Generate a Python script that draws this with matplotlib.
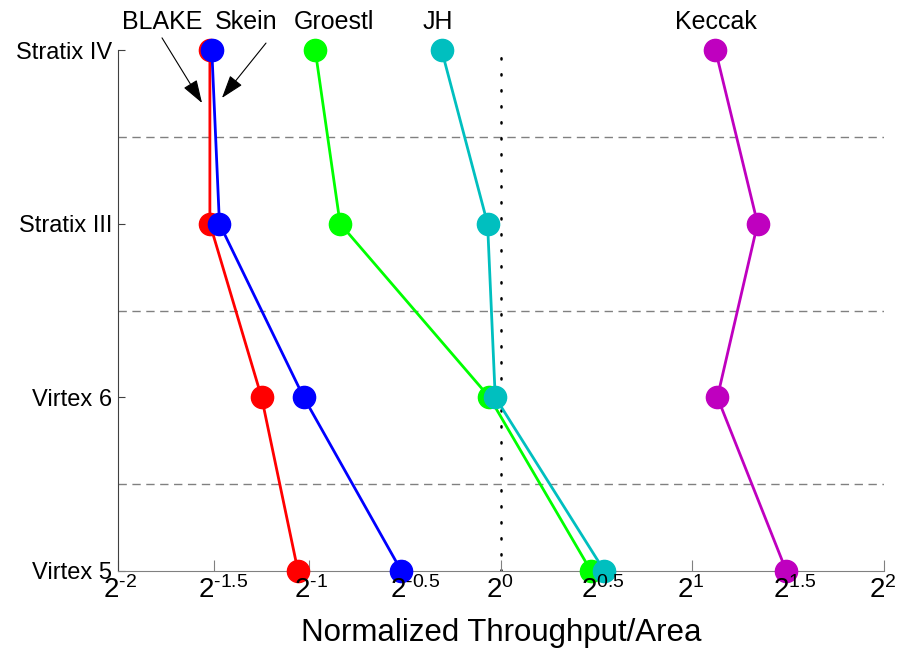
import numpy as np
import matplotlib
matplotlib.use("Agg")
import matplotlib.pyplot as plt

plt.rcParams['font.family'] = ['Liberation Sans', 'DejaVu Sans']
plt.rcParams['mathtext.fontset'] = 'custom'
plt.rcParams['mathtext.rm'] = 'Liberation Sans'
plt.rcParams['mathtext.it'] = 'Liberation Sans'
plt.rcParams['mathtext.default'] = 'regular'

# --- Data (log2 of normalized throughput/area) ---
devices = ["Virtex 5", "Virtex 6", "Stratix III", "Stratix IV"]
blake = [-1.06, -1.25, -1.52, -1.52]
skein = [-0.52, -1.03, -1.47, -1.51]
groestl = [0.47, -0.06, -0.84, -0.97]
jh = [0.54, -0.03, -0.07, -0.31]
keccak = [1.49, 1.13, 1.34, 1.12]

series = [("BLAKE", blake, "#ff0000"),
          ("Skein", skein, "#0000ff"),
          ("Groestl", groestl, "#00ff00"),
          ("JH", jh, "#00bfbf"),
          ("Keccak", keccak, "#bf00bf")]

xtick_exp = [-2, -1.5, -1, -0.5, 0, 0.5, 1, 1.5, 2]

fig = plt.figure(figsize=(8.97, 6.53), dpi=100)
ax = fig.add_axes([0.1315, 0.1256, 0.8540, 0.7978])

y = np.arange(len(devices))

# separators between devices
for yy in y[:-1] + 0.5:
    ax.axhline(yy, color="#808080", lw=1, ls=(0, (6, 4)), zorder=1)
# reference at 2^0
ax.axvline(1.0, color="black", lw=1.8, ls=(0, (0.5, 5.9)), dash_capstyle="round", zorder=1)

for name, vals, col in series:
    ax.plot(2.0 ** np.array(vals), y, "-o", color=col, lw=2, ms=16,
            clip_on=False, zorder=3)

ax.set_xscale("log", base=2)
ax.set_xlim(2 ** -2, 2 ** 2)
ax.set_ylim(0, 3)
ax.set_xticks([2.0 ** e for e in xtick_exp])
ax.set_xticklabels([])
ax.minorticks_off()
# base "2" sits just left of the tick, exponent to the right (MATLAB style)
for e in xtick_exp:
    ax.annotate(r"$2^{\text{%g}}$" % e, xy=(2.0 ** e, 0),
                xycoords=("data", "axes fraction"), xytext=(-11, -4),
                textcoords="offset points", ha="left", va="top",
                fontsize=20, annotation_clip=False)
ax.set_yticks(y)
ax.set_yticklabels(devices, fontsize=17)
ax.tick_params(axis="x", direction="in", length=8, pad=1, color="#808080")
ax.tick_params(axis="y", direction="in", length=5, pad=4, color="#404040")

for s in ["top", "right"]:
    ax.spines[s].set_visible(False)
ax.spines["left"].set_color("#404040")
ax.spines["bottom"].set_color("#808080")

ax.set_xlabel("Normalized Throughput/Area", fontsize=22.5, labelpad=33)

# series labels above the top row
lab_kw = dict(fontsize=18, ha="center", va="center")
ax.text(2 ** -0.87, 3.16, "Groestl", **lab_kw)
ax.text(2 ** -0.33, 3.16, "JH", **lab_kw)
ax.text(2 ** 1.12, 3.16, "Keccak", **lab_kw)
ax.text(2 ** -1.77, 3.16, "BLAKE", **lab_kw)
ax.text(2 ** -1.33, 3.16, "Skein", **lab_kw)
arrow_kw = dict(arrowstyle="-|>,head_length=0.9,head_width=0.3", color="black", lw=0.8,
                mutation_scale=16, shrinkA=0, shrinkB=0)
ax.annotate("", xy=(2 ** -1.561, 2.695), xytext=(2 ** -1.77, 3.07),
            arrowprops=arrow_kw, annotation_clip=False)
ax.annotate("", xy=(2 ** -1.457, 2.724), xytext=(2 ** -1.227, 3.04),
            arrowprops=arrow_kw, annotation_clip=False)

plt.savefig("out.png", dpi=100)
